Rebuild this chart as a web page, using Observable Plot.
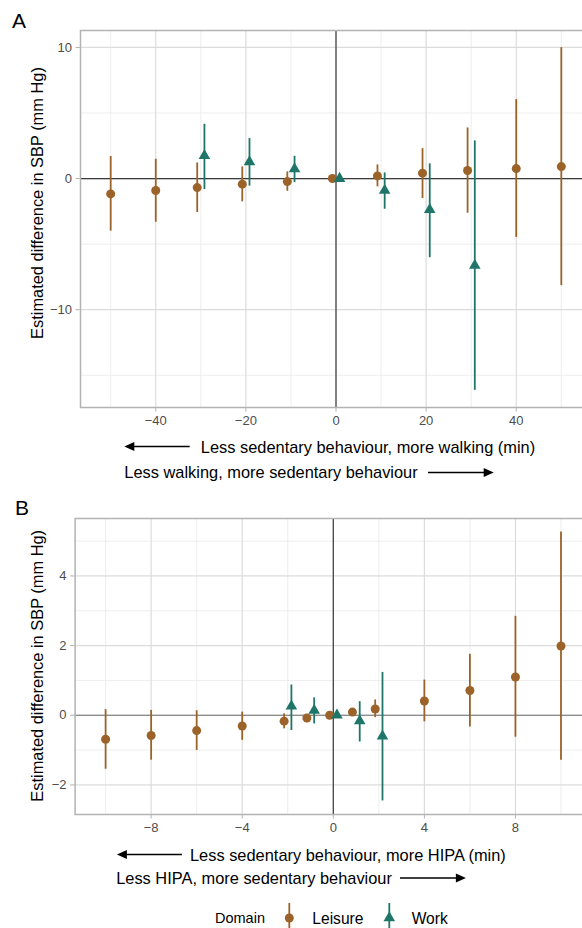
<!DOCTYPE html>
<html>
<head>
<meta charset="utf-8">
<script src="https://cdn.jsdelivr.net/npm/d3@7"></script>
<script src="https://cdn.jsdelivr.net/npm/@observablehq/plot@0.6"></script>
<style>
  body { margin: 0; background: #fff; font-family: "Liberation Sans", Arial, sans-serif; }
  #wrap { position: relative; width: 582px; height: 928px; overflow: hidden; background: #fff; }
  #wrap > svg { position: absolute; left: 0; }
</style>
</head>
<body>
<div id="wrap"></div>
<script>
// ---------- DATA ----------
const domains = ["Leisure", "Work"];

// Panel A: walking (min)
const walkLeisureMin = [-50, -40, -30, -20, -10, 0, 10, 20, 30, 40, 50];
const walkLeisureEst = [-1.17, -0.91, -0.69, -0.43, -0.23, 0, 0.20, 0.41, 0.61, 0.76, 0.91];
const walkLeisureLo  = [-4.01, -3.33, -2.59, -1.78, -0.97, 0, -0.63, -1.52, -2.64, -4.49, -8.17];
const walkLeisureHi  = [1.68, 1.47, 1.19, 0.89, 0.51, 0, 1.04, 2.28, 3.86, 6.02, 9.98];

const walkWorkMin = [-30, -20, -10, 0, 10, 20, 30];
const walkWorkEst = [1.75, 1.27, 0.74, 0, -0.91, -2.38, -6.63];
const walkWorkLo  = [-0.84, -0.58, -0.30, 0, -2.34, -6.04, -16.15];
const walkWorkHi  = [4.14, 3.05, 1.70, 0, 0.43, 1.12, 2.87];

const walkXMajor = [-40, -20, 0, 20, 40];
const walkXMinor = [-50, -30, -10, 10, 30, 50];
const walkYMajor = [-10, 0, 10];
const walkYMinor = [-15, -5, 5];

// Panel B: HIPA (min)
const hipaLeisureMin = [-10, -8, -6, -4, -2, -1, 0, 1, 2, 4, 6, 8, 10];
const hipaLeisureEst = [-0.69, -0.58, -0.44, -0.31, -0.17, -0.08, 0, 0.09, 0.18, 0.41, 0.71, 1.10, 1.99];
const hipaLeisureLo  = [-1.55, -1.29, -1.01, -0.72, -0.39, -0.13, 0, 0.03, -0.07, -0.19, -0.34, -0.63, -1.29];
const hipaLeisureHi  = [0.16, 0.14, 0.13, 0.09, 0.04, -0.03, 0, 0.15, 0.44, 1.01, 1.75, 2.84, 5.26];

const hipaWorkMin = [-2, -1, 0, 1, 2];
const hipaWorkEst = [0.26, 0.14, 0, -0.16, -0.60];
const hipaWorkLo  = [-0.44, -0.25, 0, -0.77, -2.46];
const hipaWorkHi  = [0.87, 0.50, 0, 0.39, 1.23];

const hipaXMajor = [-8, -4, 0, 4, 8];
const hipaXMinor = [-10, -6, -2, 2, 6, 10];
const hipaYMajor = [-2, 0, 2, 4];
const hipaYMinor = [-1, 1, 3, 5];

// ---------- STYLE ----------
const COLORS = ["#9b6329", "#1f7668"];
const FONT = "Liberation Sans, Arial, Helvetica, sans-serif";
const fmt = d => (d < 0 ? "\u2212" + Math.abs(d) : String(d));

function buildRows(domain, mins, est, lo, hi) {
  return mins.map((m, i) => ({ domain, minutes: m, est: est[i], lo: lo[i], hi: hi[i] }));
}
function dodge(rows, off) {
  const counts = d3.rollup(rows, v => v.length, d => d.minutes);
  return rows.map(d => ({ ...d, xd: counts.get(d.minutes) > 1 ? d.minutes + (d.domain === "Leisure" ? -off : off) : d.minutes }));
}

function panel(cfg) {
  const data = dodge([
    ...buildRows("Leisure", cfg.lm, cfg.le, cfg.llo, cfg.lhi),
    ...buildRows("Work", cfg.wm, cfg.we, cfg.wlo, cfg.whi)
  ], cfg.off);
  const leis = data.filter(d => d.domain === "Leisure");
  const work = data.filter(d => d.domain === "Work");
  return Plot.plot({
    width: 582,
    height: cfg.height,
    marginTop: cfg.mt,
    marginBottom: 25,
    marginLeft: cfg.ml,
    marginRight: -9,
    style: { fontFamily: FONT, background: "transparent", overflow: "hidden" },
    x: { domain: cfg.xd },
    y: { domain: cfg.yd },
    color: { domain: domains, range: COLORS },
    marks: [
      Plot.ruleX(cfg.xMinor, { stroke: "#e9e9e9", strokeWidth: 0.8 }),
      Plot.ruleY(cfg.yMinor, { stroke: "#e9e9e9", strokeWidth: 0.8 }),
      Plot.ruleX(cfg.xMajor, { stroke: "#dcdcdc", strokeWidth: 1.2 }),
      Plot.ruleY(cfg.yMajor, { stroke: "#dcdcdc", strokeWidth: 1.2 }),
      Plot.ruleY([0], { stroke: cfg.hz, strokeWidth: 1.2 }),
      Plot.ruleX([0], { stroke: "#3a3a3a", strokeWidth: 1.2 }),
      Plot.frame({ stroke: "#b3b3b3", strokeWidth: 1.5 }),
      Plot.axisX({ ticks: cfg.xMajor, tickFormat: fmt, tickSize: 4.5, tickPadding: 4, fontSize: 13, stroke: "#b3b3b3", fill: "#4d4d4d", label: null }),
      Plot.axisY({ ticks: cfg.yMajor, tickFormat: fmt, tickSize: 4.5, tickPadding: 4, fontSize: 13, stroke: "#b3b3b3", fill: "#4d4d4d", label: null }),
      Plot.ruleX(data, { x: "xd", y1: "lo", y2: "hi", stroke: "domain", strokeWidth: 1.8 }),
      Plot.dot(leis, { x: "xd", y: "est", fill: "domain", symbol: "circle", r: 4.5, stroke: null }),
      Plot.dot(work, { x: "xd", y: "est", fill: "domain", symbol: "triangle", r: 4.3, stroke: null })
    ]
  });
}

const wrap = document.getElementById("wrap");

const svgA = panel({
  height: 432, mt: 30, ml: 80, xd: [-56.7, 56.7], yd: [-17.46, 11.29], off: 0.8, hz: "#3a3a3a",
  lm: walkLeisureMin, le: walkLeisureEst, llo: walkLeisureLo, lhi: walkLeisureHi,
  wm: walkWorkMin, we: walkWorkEst, wlo: walkWorkLo, whi: walkWorkHi,
  xMajor: walkXMajor, xMinor: walkXMinor, yMajor: walkYMajor, yMinor: walkYMinor
});
svgA.style.top = "0px";
wrap.appendChild(svgA);

const svgB = panel({
  height: 349, mt: 28, ml: 74.6, xd: [-11.34, 11.34], yd: [-2.85, 5.65], off: 0.16, hz: "#6e6e6e",
  lm: hipaLeisureMin, le: hipaLeisureEst, llo: hipaLeisureLo, lhi: hipaLeisureHi,
  wm: hipaWorkMin, we: hipaWorkEst, wlo: hipaWorkLo, whi: hipaWorkHi,
  xMajor: hipaXMajor, xMinor: hipaXMinor, yMajor: hipaYMajor, yMinor: hipaYMinor
});
svgB.style.top = "490px";
wrap.appendChild(svgB);

// ---------- ANNOTATION OVERLAY ----------
const ns = "http://www.w3.org/2000/svg";
const ov = document.createElementNS(ns, "svg");
ov.setAttribute("width", 582);
ov.setAttribute("height", 928);
ov.style.top = "0px";
ov.style.fontFamily = FONT;
wrap.appendChild(ov);

function el(tag, attrs, text) {
  const e = document.createElementNS(ns, tag);
  for (const k in attrs) e.setAttribute(k, attrs[k]);
  if (text != null) e.textContent = text;
  ov.appendChild(e);
  return e;
}
function arrow(xTail, xTip, y) {
  const dir = xTip > xTail ? 1 : -1;
  const hl = 10, hw = 4.5;
  el("line", { x1: xTail, y1: y, x2: xTip - dir * hl * 0.8, y2: y, stroke: "#000", "stroke-width": 1.5 });
  el("polygon", { points: `${xTip},${y} ${xTip - dir * hl},${y - hw} ${xTip - dir * hl},${y + hw}`, fill: "#000" });
}

// panel letters
el("text", { x: 12, y: 28, "font-size": 21, fill: "#000" }, "A");
el("text", { x: 15, y: 515, "font-size": 21, fill: "#000" }, "B");

// y titles
const yTitle = "Estimated difference in SBP (mm Hg)";
el("text", { transform: "translate(37,203) rotate(-90)", "text-anchor": "middle", "dominant-baseline": "central", "font-size": 16.4, fill: "#000" }, yTitle);
el("text", { transform: "translate(37,665.8) rotate(-90)", "text-anchor": "middle", "dominant-baseline": "central", "font-size": 16.4, fill: "#000" }, yTitle);

// x direction labels A
el("text", { x: 200.8, y: 446.5, "dominant-baseline": "central", "font-size": 16.4, fill: "#000" }, "Less sedentary behaviour, more walking (min)");
arrow(189.7, 124.3, 446.5);
el("text", { x: 124.3, y: 472.4, "dominant-baseline": "central", "font-size": 16.4, fill: "#000" }, "Less walking, more sedentary behaviour");
arrow(428, 493.7, 472.4);

// x direction labels B
el("text", { x: 190, y: 854.5, "dominant-baseline": "central", "font-size": 16.4, fill: "#000" }, "Less sedentary behaviour, more HIPA (min)");
arrow(181.9, 116.9, 854.5);
el("text", { x: 116.2, y: 878.1, "dominant-baseline": "central", "font-size": 16.4, fill: "#000" }, "Less HIPA, more sedentary behaviour");
arrow(400, 465.9, 878.1);

// legend
const ly = 918;
el("text", { x: 215, y: ly, "dominant-baseline": "central", "font-size": 14.5, fill: "#000" }, "Domain");
el("line", { x1: 289.3, x2: 289.3, y1: 903, y2: 934, stroke: COLORS[0], "stroke-width": 1.8 });
el("circle", { cx: 289.3, cy: ly, r: 4.5, fill: COLORS[0] });
el("text", { x: 312.3, y: ly, "dominant-baseline": "central", "font-size": 15.6, fill: "#000" }, domains[0]);
el("line", { x1: 389.3, x2: 389.3, y1: 903, y2: 934, stroke: COLORS[1], "stroke-width": 1.8 });
el("path", { d: d3.symbol(d3.symbolTriangle, Math.PI * 4.3 * 4.3)(), transform: `translate(389.3,${ly})`, fill: COLORS[1] });
el("text", { x: 411.7, y: ly, "dominant-baseline": "central", "font-size": 15.6, fill: "#000" }, domains[1]);
</script>
</body>
</html>
